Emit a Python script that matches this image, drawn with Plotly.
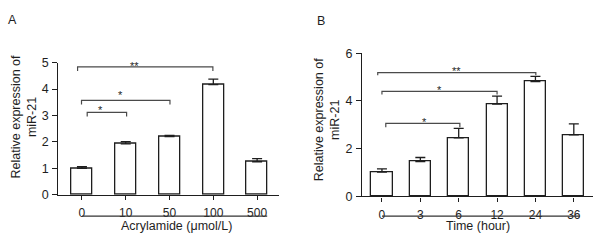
import plotly.graph_objects as go

# ---- data ----
conc_labels = ["0", "10", "50", "100", "500"]
conc_values = [1.00, 1.93, 2.20, 4.17, 1.25]
conc_errors = [0.06, 0.08, 0.05, 0.21, 0.12]

time_labels = ["0", "3", "6", "12", "24", "36"]
time_values = [1.02, 1.46, 2.45, 3.87, 4.81, 2.58]
time_errors = [0.13, 0.17, 0.40, 0.33, 0.22, 0.46]

# brackets: (x_start, x_end, y_line, y_drop, star_x, star_y, label)
brackets_a = [
    (-0.10, 2.99, 4.84, 4.68, 1.21, 4.99, "**"),
    (-0.01, 2.01, 3.57, 3.42, 0.89, 3.89, "*"),
    (0.12, 1.02, 3.12, 2.96, 0.42, 3.33, "*"),
]
brackets_b = [
    (-0.11, 4.01, 5.19, 5.08, 1.95, 5.39, "**"),
    (0.00, 3.00, 4.40, 4.27, 1.50, 4.60, "*"),
    (0.10, 2.03, 3.06, 2.90, 1.10, 3.23, "*"),
]

W, H = 600, 248
FONT = "Liberation Sans, Arial, sans-serif"
INK = "#1e1e1e"
BR = "#4a4a4a"

def px_x(p):
    return p / W

def px_y(p):
    return 1 - p / H

fig = go.Figure()

fig.add_trace(go.Bar(
    x=conc_labels, y=conc_values, width=0.48,
    marker=dict(color="white", line=dict(color=INK, width=1.3)),
    error_y=dict(type="data", array=conc_errors, arrayminus=[0] * len(conc_errors),
                 symmetric=False, color=INK, thickness=1.3, width=5),
    xaxis="x", yaxis="y", showlegend=False,
))
fig.add_trace(go.Bar(
    x=time_labels, y=time_values, width=0.55,
    marker=dict(color="white", line=dict(color=INK, width=1.3)),
    error_y=dict(type="data", array=time_errors, arrayminus=[0] * len(time_errors),
                 symmetric=False, color=INK, thickness=1.3, width=5),
    xaxis="x2", yaxis="y2", showlegend=False,
))

axis_common = dict(
    showline=True, linecolor=INK, linewidth=1.3, showgrid=False, zeroline=False,
    ticks="outside", ticklen=4, tickwidth=1.3, tickcolor=INK,
    tickfont=dict(family=FONT, size=12.5, color=INK),
)

fig.update_layout(
    width=W, height=H,
    margin=dict(l=0, r=0, t=0, b=0),
    paper_bgcolor="white", plot_bgcolor="white",
    bargap=0,
    xaxis=dict(axis_common, domain=[px_x(58.3), px_x(279)], type="category",
               range=[-0.54, 4.5], anchor="y", ticklabelstandoff=3,
               tickfont=dict(family=FONT, size=12, color=INK)),
    yaxis=dict(axis_common, domain=[px_y(199), px_y(59)], range=[0, 5], dtick=1,
               anchor="x", ticklen=5, ticklabelstandoff=1),
    xaxis2=dict(axis_common, domain=[px_x(362), px_x(593)], type="category",
                range=[-0.52, 5.5], anchor="y2", ticklabelstandoff=3,
                tickfont=dict(family=FONT, size=12, color=INK)),
    yaxis2=dict(axis_common, domain=[px_y(200.7), px_y(49)], range=[0, 6], dtick=2,
                anchor="x2", ticklen=5, ticklabelstandoff=1),
)

shapes = []
annots = []
for (xr, yr, brs) in (("x", "y", brackets_a), ("x2", "y2", brackets_b)):
    for (x0, x1, yl, yd, sx, sy, lab) in brs:
        shapes.append(dict(type="path", xref=xr, yref=yr,
                           path=f"M {x0} {yd} L {x0} {yl} L {x1} {yl} L {x1} {yd}",
                           line=dict(color=BR, width=1.2)))
        annots.append(dict(x=sx, y=sy, xref=xr, yref=yr, text=lab, showarrow=False,
                           font=dict(family=FONT, size=11, color=INK),
                           xanchor="center", yanchor="middle", yshift=-3))

# group underlines under tick labels
shapes.append(dict(type="line", xref="x", yref="paper", x0=0, x1=4.23,
                   y0=px_y(221.7), y1=px_y(221.7), line=dict(color="#333", width=1.3)))
shapes.append(dict(type="line", xref="x2", yref="paper", x0=0, x1=5.16,
                   y0=px_y(221.7), y1=px_y(221.7), line=dict(color="#333", width=1.3)))

# axis titles
annots += [
    dict(x=px_x(176.7), y=px_y(232), xref="paper", yref="paper",
         text="Acrylamide (μmol/L)", showarrow=False, borderpad=0,
         font=dict(family=FONT, size=12.5, color=INK), xanchor="center", yanchor="middle"),
    dict(x=px_x(477.7), y=px_y(232), xref="paper", yref="paper",
         text="Time (hour)", showarrow=False, borderpad=0,
         font=dict(family=FONT, size=12.5, color=INK), xanchor="center", yanchor="middle"),
    dict(x=px_x(24), y=px_y(116), xref="paper", yref="paper",
         text="Relative expression of<br>miR-21", showarrow=False, textangle=-90,
         font=dict(family=FONT, size=12.5, color=INK), xanchor="center", yanchor="middle"),
    dict(x=px_x(327), y=px_y(119), xref="paper", yref="paper",
         text="Relative expression of<br>miR-21", showarrow=False, textangle=-90,
         font=dict(family=FONT, size=12.5, color=INK), xanchor="center", yanchor="middle"),
    dict(x=px_x(12.3), y=px_y(13.5), xref="paper", yref="paper", text="A",
         showarrow=False, font=dict(family=FONT, size=12.5, color=INK),
         xanchor="center", yanchor="middle"),
    dict(x=px_x(321), y=px_y(14.5), xref="paper", yref="paper", text="B",
         showarrow=False, font=dict(family=FONT, size=12.5, color=INK),
         xanchor="center", yanchor="middle"),
]

fig.update_layout(shapes=shapes, annotations=annots)

fig.write_html(
    "out.html",
    config={"displayModeBar": False},
    post_script="document.body.style.margin='0';document.body.style.overflow='hidden';",
)
